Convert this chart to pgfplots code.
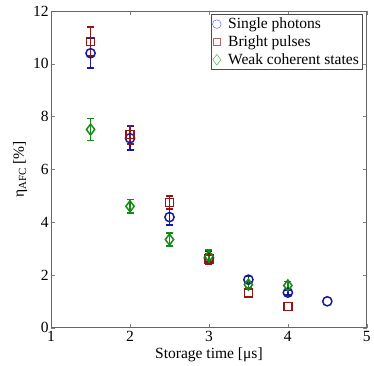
\documentclass[border=0pt]{standalone}
\usepackage{fontspec}
\setmainfont{Liberation Serif}
\usepackage{pgfplots}
\pgfplotsset{compat=1.18}
\definecolor{sblue}{RGB}{25,25,160}
\definecolor{bred}{RGB}{150,20,20}
\definecolor{wgreen}{RGB}{20,140,20}
\begin{document}
\begin{tikzpicture}
\begin{axis}[
  scale only axis,
  width=315pt, height=316pt,
  xmin=1, xmax=5, ymin=0, ymax=12,
  xtick={1,2,3,4,5}, ytick={0,2,4,6,8,10,12},
  tick align=inside,
  major tick length=4pt,
  /pgf/number format/assume math mode=true,
  tick label style={font=\fontsize{15.5}{17}\selectfont},
  label style={font=\fontsize{15.5}{17}\selectfont},
  yticklabel style={xshift=1pt},
  xlabel={Storage time [μs]},
  ylabel={η\textsubscript{AFC} [\%]},
  ylabel style={at={(axis description cs:-0.098,0.5)}, anchor=center},
  xlabel style={at={(axis description cs:0.5,-0.098)}, anchor=base},
  axis line style={line width=0.7pt, black!60},
  legend style={at={(0.987,0.99)}, anchor=north east, font=\fontsize{15.5}{17}\selectfont,
    draw=black!70, line width=0.6pt, inner sep=1.5pt, row sep=1.5pt, column sep=5pt},
  legend cell align=left,
  error bars/error bar style={line width=1.5pt},
  error bars/error mark options={rotate=90, mark size=3.5pt, line width=1.5pt},
]
\addplot[only marks, color=sblue, mark=o, mark size=4.6pt, line width=1.5pt, forget plot,
  error bars/.cd, y dir=both, y explicit]
coordinates {
  (1.5,10.40) +- (0,0.55)
  (2.0,7.18) +- (0,0.45)
  (2.5,4.19) +- (0,0.30)
  (3.0,2.65) +- (0,0.25)
  (3.5,1.82) +- (0,0.12)
  (4.0,1.33) +- (0,0.10)
};
\addplot[only marks, color=sblue, mark=o, mark size=4.6pt, line width=1.5pt, forget plot]
coordinates {(4.5,1.00)};
\addplot[only marks, color=bred, mark=square, mark size=4pt, line width=1.5pt, forget plot,
  error bars/.cd, y dir=both, y explicit]
coordinates {
  (1.5,10.84) +- (0,0.55)
  (2.0,7.32) +- (0,0.35)
  (2.5,4.75) +- (0,0.25)
  (3.0,2.60) +- (0,0.20)
};
\addplot[only marks, color=bred, mark=square, mark size=4pt, line width=1.5pt, forget plot]
coordinates {(3.5,1.32) (4.0,0.80)};
\addplot[only marks, color=wgreen, mark=diamond, mark size=5.5pt, line width=1.5pt, forget plot,
  error bars/.cd, y dir=both, y explicit]
coordinates {
  (1.5,7.51) +- (0,0.42)
  (2.0,4.60) +- (0,0.25)
  (2.5,3.34) +- (0,0.25)
  (3.0,2.70) +- (0,0.25)
  (3.5,1.63) +- (0,0.12)
  (4.0,1.60) +- (0,0.15)
};
\addlegendimage{only marks, mark=o, mark size=4.3pt, color=blue!60!white, line width=0.5pt}
\addlegendentry{Single photons}
\addlegendimage{only marks, mark=square, mark size=3.8pt, color=red!50!black!60!white, line width=0.5pt}
\addlegendentry{Bright pulses}
\addlegendimage{only marks, mark=diamond, mark size=5.3pt, color=green!60!black!70!white, line width=0.5pt}
\addlegendentry{Weak coherent states}
\end{axis}
\path ([shift={(-51pt,-38pt)}]current axis.south west) rectangle ([shift={(7pt,11pt)}]current axis.north east);
\end{tikzpicture}
\end{document}
